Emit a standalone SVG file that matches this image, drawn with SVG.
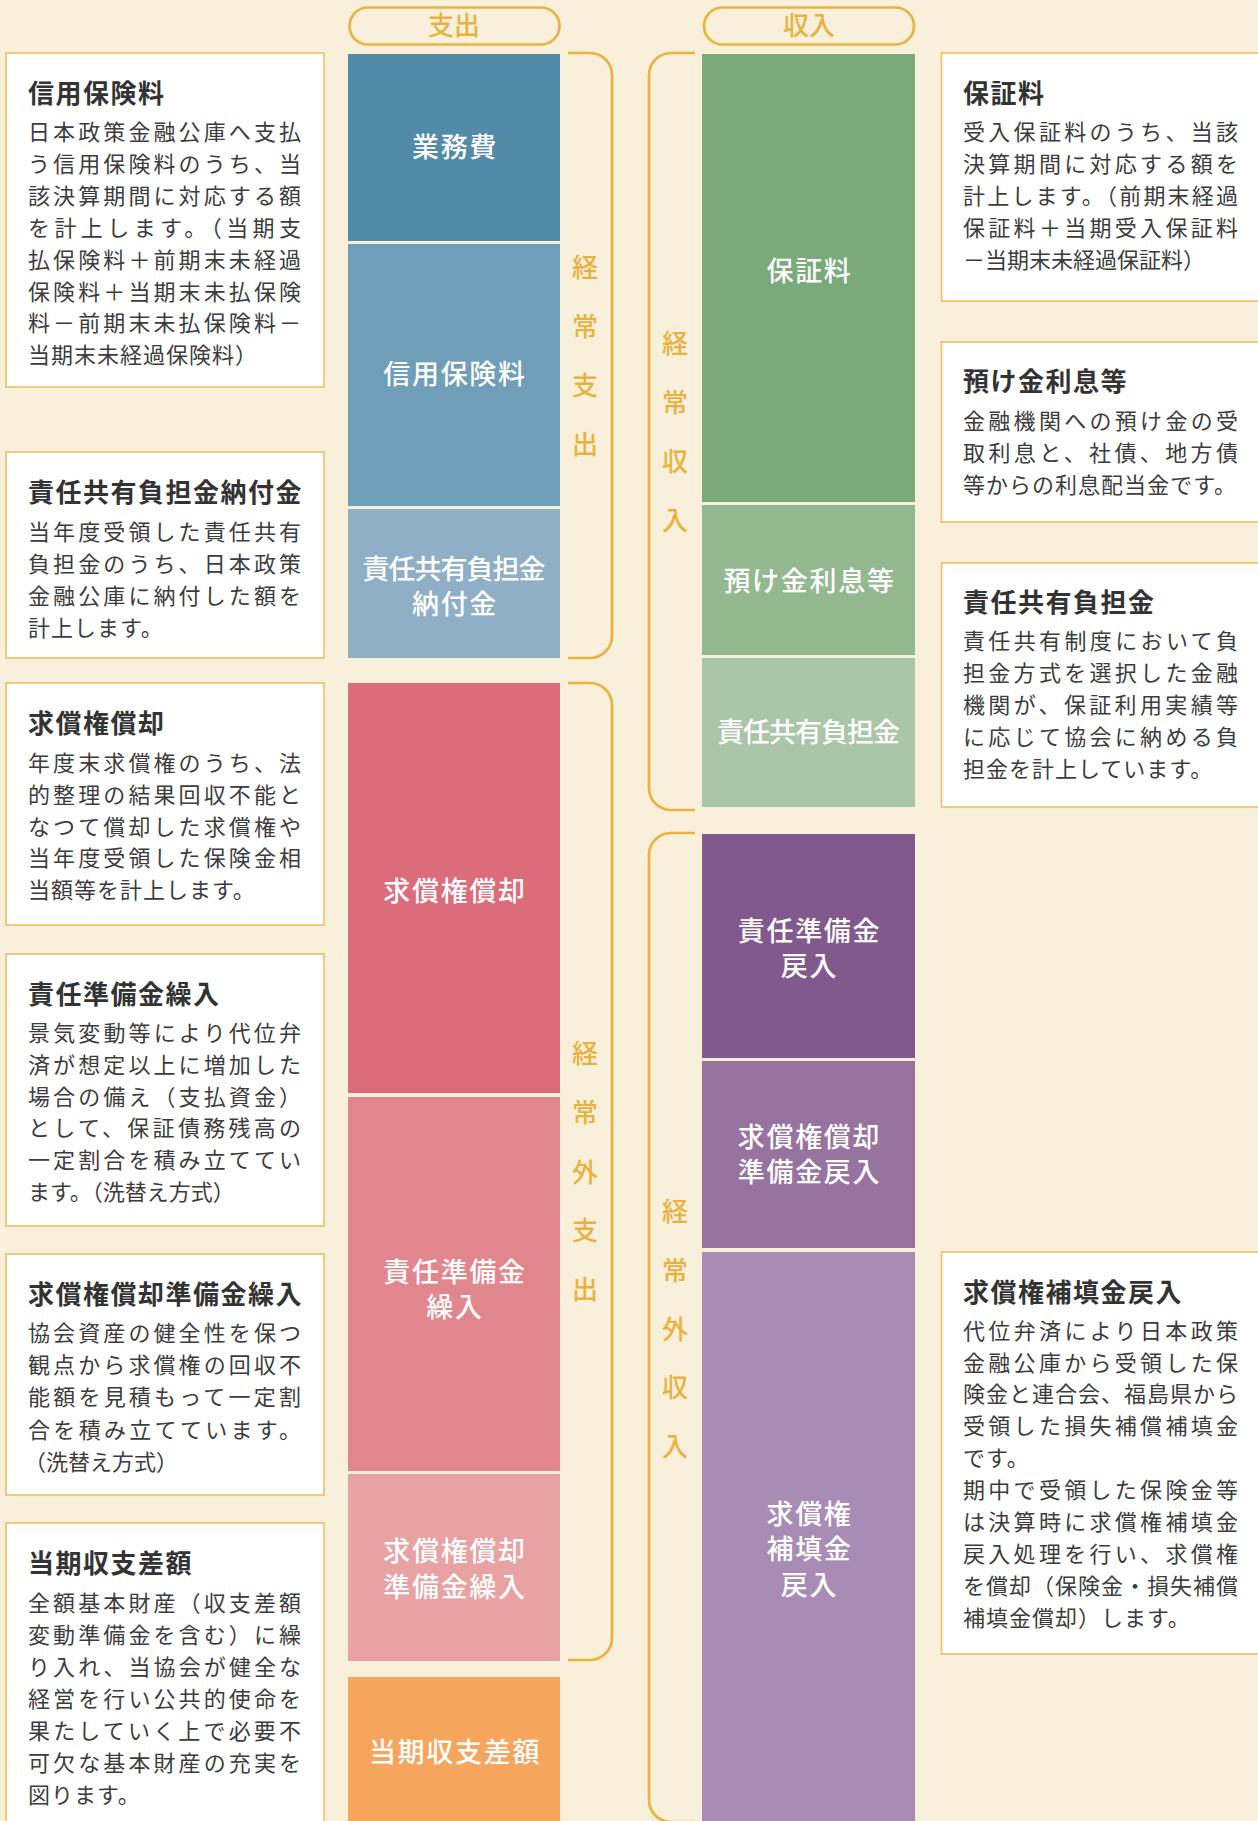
<svg xmlns="http://www.w3.org/2000/svg" width="1258" height="1821" viewBox="0 0 1258 1821">
<style>
text{font-family:"Noto Sans CJK JP","Noto Sans CJK SC",sans-serif}
.box{fill:#FFFFFF;stroke:#EBC060;stroke-width:1.6}
.ttl{font-size:26px;font-weight:bold;fill:#333333;letter-spacing:1.5px}
.bd{font-size:22px;fill:#3C3C3C}
.nat{letter-spacing:1px}
.bl{font-size:27px;font-weight:500;fill:#FFFFFF;text-anchor:middle;letter-spacing:1.7px}
.fit{letter-spacing:0}
.vl{font-size:26px;font-weight:500;fill:#E9B23E;text-anchor:middle}
.br{fill:none;stroke:#EAB33E;stroke-width:2.7}
.pill{fill:none;stroke:#EAB33E;stroke-width:2.7}
</style>
<rect width="1258" height="1821" fill="#F9F0DC"/>

<g id="header-expense">
<rect class="pill" x="349.5" y="7.5" width="210" height="37" rx="18.5"/>
<text class="vl" x="454" y="35">支出</text>
</g>
<g id="header-income">
<rect class="pill" x="704" y="7.5" width="210" height="37" rx="18.5"/>
<text class="vl" x="809" y="35">収入</text>
</g>

<g id="connectors">
<path class="br" d="M568,53 H590 A22,22 0 0 1 612,75 V636 A22,22 0 0 1 590,658 H568"/>
<path class="br" d="M568,683 H590 A22,22 0 0 1 612,705 V1638 A22,22 0 0 1 590,1660 H568"/>
<path class="br" d="M695,53 H671 A22,22 0 0 0 649,75 V788 A22,22 0 0 0 671,810 H695"/>
<path class="br" d="M695,833 H671 A22,22 0 0 0 649,855 V1800 A22,22 0 0 0 671,1822 H695"/>
</g>

<g id="label-keijo-shishutsu">
<text class="vl" x="585" y="277">経</text><text class="vl" x="585" y="336">常</text><text class="vl" x="585" y="395">支</text><text class="vl" x="585" y="454">出</text>
</g>
<g id="label-keijogai-shishutsu">
<text class="vl" x="585" y="1063">経</text><text class="vl" x="585" y="1122">常</text><text class="vl" x="585" y="1182">外</text><text class="vl" x="585" y="1240">支</text><text class="vl" x="585" y="1299">出</text>
</g>
<g id="label-keijo-shunyu">
<text class="vl" x="675" y="353">経</text><text class="vl" x="675" y="412">常</text><text class="vl" x="675" y="471">収</text><text class="vl" x="675" y="530">入</text>
</g>
<g id="label-keijogai-shunyu">
<text class="vl" x="675" y="1221">経</text><text class="vl" x="675" y="1280">常</text><text class="vl" x="675" y="1339">外</text><text class="vl" x="675" y="1397">収</text><text class="vl" x="675" y="1456">入</text>
</g>

<!-- expense bars -->
<g id="bar-gyomuhi"><rect x="348" y="54" width="212" height="187" fill="#528AAA"/><text class="bl" x="455" y="157">業務費</text></g>
<g id="bar-shinyo-hokenryo"><rect x="348" y="244" width="212" height="262" fill="#6F9EB9"/><text class="bl" x="455" y="384">信用保険料</text></g>
<g id="bar-sekinin-nofukin"><rect x="348" y="509" width="212" height="149" fill="#8EAFC6"/><text class="bl fit" x="454" y="579" textLength="183" lengthAdjust="spacing">責任共有負担金</text><text class="bl" x="455" y="614">納付金</text></g>
<g id="bar-kyushoken-shokyaku"><rect x="348" y="683" width="212" height="410" fill="#DC6C7A"/><text class="bl" x="455" y="901">求償権償却</text></g>
<g id="bar-sekinin-kurire"><rect x="348" y="1097" width="212" height="374" fill="#E2868D"/><text class="bl" x="455" y="1282">責任準備金</text><text class="bl" x="455" y="1317">繰入</text></g>
<g id="bar-kyushoken-junbi-kurire"><rect x="348" y="1474" width="212" height="187" fill="#E8A2A4"/><text class="bl" x="455" y="1561">求償権償却</text><text class="bl" x="455" y="1597">準備金繰入</text></g>
<g id="bar-toki-sagaku"><rect x="348" y="1677" width="212" height="150" fill="#F6A65C"/><text class="bl" x="455" y="1762">当期収支差額</text></g>

<!-- income bars -->
<g id="bar-hoshoryo"><rect x="702" y="54" width="213" height="448" fill="#7AAA7A"/><text class="bl" x="809.5" y="281">保証料</text></g>
<g id="bar-azukekin"><rect x="702" y="505" width="213" height="150" fill="#94B990"/><text class="bl" x="809.5" y="591">預け金利息等</text></g>
<g id="bar-sekinin-futankin"><rect x="702" y="658" width="213" height="149" fill="#AAC6A8"/><text class="bl fit" x="808.5" y="742" textLength="183" lengthAdjust="spacing">責任共有負担金</text></g>
<g id="bar-sekinin-modoshi"><rect x="702" y="834" width="213" height="224" fill="#82598D"/><text class="bl" x="809.5" y="941">責任準備金</text><text class="bl" x="809.5" y="976">戻入</text></g>
<g id="bar-kyushoken-junbi-modoshi"><rect x="702" y="1061" width="213" height="187" fill="#9773A0"/><text class="bl" x="809.5" y="1147">求償権償却</text><text class="bl" x="809.5" y="1182">準備金戻入</text></g>
<g id="bar-hotenkin-modoshi"><rect x="702" y="1252" width="213" height="575" fill="#A88CB5"/><text class="bl" x="809.5" y="1524">求償権</text><text class="bl" x="809.5" y="1559">補填金</text><text class="bl" x="809.5" y="1595">戻入</text></g>

<!-- left description boxes -->
<g id="desc-shinyo-hokenryo">
<rect class="box" x="6" y="53" width="318" height="334"/>
<text class="ttl" x="28" y="103">信用保険料</text>
<text class="bd" x="28" y="140" textLength="273" lengthAdjust="spacing">日本政策金融公庫へ支払</text>
<text class="bd" x="28" y="172" textLength="273" lengthAdjust="spacing">う信用保険料のうち、当</text>
<text class="bd" x="28" y="204" textLength="273" lengthAdjust="spacing">該決算期間に対応する額</text>
<text class="bd" x="28" y="236" textLength="273" lengthAdjust="spacing">を計上します。（当期支</text>
<text class="bd" x="28" y="268" textLength="273" lengthAdjust="spacing">払保険料＋前期末未経過</text>
<text class="bd" x="28" y="300" textLength="273" lengthAdjust="spacing">保険料＋当期末未払保険</text>
<text class="bd" x="28" y="331" textLength="273" lengthAdjust="spacing">料－前期末未払保険料－</text>
<text class="bd nat" x="28" y="363">当期末未経過保険料）</text>
</g>
<g id="desc-sekinin-nofukin">
<rect class="box" x="6" y="452" width="318" height="206"/>
<text class="ttl" x="28" y="502">責任共有負担金納付金</text>
<text class="bd" x="28" y="540" textLength="273" lengthAdjust="spacing">当年度受領した責任共有</text>
<text class="bd" x="28" y="572" textLength="273" lengthAdjust="spacing">負担金のうち、日本政策</text>
<text class="bd" x="28" y="604" textLength="273" lengthAdjust="spacing">金融公庫に納付した額を</text>
<text class="bd nat" x="28" y="636">計上します。</text>
</g>
<g id="desc-kyushoken-shokyaku">
<rect class="box" x="6" y="683" width="318" height="242"/>
<text class="ttl" x="28" y="733">求償権償却</text>
<text class="bd" x="28" y="771" textLength="273" lengthAdjust="spacing">年度末求償権のうち、法</text>
<text class="bd" x="28" y="803" textLength="273" lengthAdjust="spacing">的整理の結果回収不能と</text>
<text class="bd" x="28" y="835" textLength="273" lengthAdjust="spacing">なつて償却した求償権や</text>
<text class="bd" x="28" y="866" textLength="273" lengthAdjust="spacing">当年度受領した保険金相</text>
<text class="bd nat" x="28" y="898">当額等を計上します。</text>
</g>
<g id="desc-sekinin-kurire">
<rect class="box" x="6" y="954" width="318" height="272"/>
<text class="ttl" x="28" y="1004">責任準備金繰入</text>
<text class="bd" x="28" y="1041" textLength="273" lengthAdjust="spacing">景気変動等により代位弁</text>
<text class="bd" x="28" y="1073" textLength="273" lengthAdjust="spacing">済が想定以上に増加した</text>
<text class="bd" x="28" y="1105" textLength="273" lengthAdjust="spacing">場合の備え（支払資金）</text>
<text class="bd" x="28" y="1136" textLength="273" lengthAdjust="spacing">として、保証債務残高の</text>
<text class="bd" x="28" y="1168" textLength="273" lengthAdjust="spacing">一定割合を積み立ててい</text>
<text class="bd" x="28" y="1200">ます。（洗替え方式）</text>
</g>
<g id="desc-kyushoken-junbi-kurire">
<rect class="box" x="6" y="1254" width="318" height="241"/>
<text class="ttl" x="28" y="1304">求償権償却準備金繰入</text>
<text class="bd" x="28" y="1341" textLength="273" lengthAdjust="spacing">協会資産の健全性を保つ</text>
<text class="bd" x="28" y="1373" textLength="273" lengthAdjust="spacing">観点から求償権の回収不</text>
<text class="bd" x="28" y="1405" textLength="273" lengthAdjust="spacing">能額を見積もって一定割</text>
<text class="bd" x="28" y="1438" textLength="273" lengthAdjust="spacing">合を積み立てています。</text>
<text class="bd" x="24" y="1470">（洗替え方式）</text>
</g>
<g id="desc-toki-sagaku">
<rect class="box" x="6" y="1523" width="318" height="320"/>
<text class="ttl" x="28" y="1573">当期収支差額</text>
<text class="bd" x="28" y="1611" textLength="273" lengthAdjust="spacing">全額基本財産（収支差額</text>
<text class="bd" x="28" y="1643" textLength="273" lengthAdjust="spacing">変動準備金を含む）に繰</text>
<text class="bd" x="28" y="1675" textLength="273" lengthAdjust="spacing">り入れ、当協会が健全な</text>
<text class="bd" x="28" y="1707" textLength="273" lengthAdjust="spacing">経営を行い公共的使命を</text>
<text class="bd" x="28" y="1739" textLength="273" lengthAdjust="spacing">果たしていく上で必要不</text>
<text class="bd" x="28" y="1771" textLength="273" lengthAdjust="spacing">可欠な基本財産の充実を</text>
<text class="bd nat" x="28" y="1803">図ります。</text>
</g>

<!-- right description boxes -->
<g id="desc-hoshoryo">
<rect class="box" x="941.5" y="53" width="330" height="248"/>
<text class="ttl" x="963" y="103">保証料</text>
<text class="bd" x="963" y="140" textLength="275" lengthAdjust="spacing">受入保証料のうち、当該</text>
<text class="bd" x="963" y="172" textLength="275" lengthAdjust="spacing">決算期間に対応する額を</text>
<text class="bd" x="963" y="204" textLength="275" lengthAdjust="spacing">計上します。（前期末経過</text>
<text class="bd" x="963" y="236" textLength="275" lengthAdjust="spacing">保証料＋当期受入保証料</text>
<text class="bd" x="963" y="268">－当期末未経過保証料）</text>
</g>
<g id="desc-azukekin">
<rect class="box" x="941.5" y="342" width="330" height="180"/>
<text class="ttl" x="963" y="391">預け金利息等</text>
<text class="bd" x="963" y="429" textLength="275" lengthAdjust="spacing">金融機関への預け金の受</text>
<text class="bd" x="963" y="461" textLength="275" lengthAdjust="spacing">取利息と、社債、地方債</text>
<text class="bd" x="963" y="493" textLength="273" lengthAdjust="spacing">等からの利息配当金です。</text>
</g>
<g id="desc-sekinin-futankin">
<rect class="box" x="941.5" y="563" width="330" height="244"/>
<text class="ttl" x="963" y="612">責任共有負担金</text>
<text class="bd" x="963" y="649" textLength="275" lengthAdjust="spacing">責任共有制度において負</text>
<text class="bd" x="963" y="681" textLength="275" lengthAdjust="spacing">担金方式を選択した金融</text>
<text class="bd" x="963" y="713" textLength="275" lengthAdjust="spacing">機関が、保証利用実績等</text>
<text class="bd" x="963" y="745" textLength="275" lengthAdjust="spacing">に応じて協会に納める負</text>
<text class="bd nat" x="963" y="777">担金を計上しています。</text>
</g>
<g id="desc-hotenkin-modoshi">
<rect class="box" x="941.5" y="1252" width="330" height="402"/>
<text class="ttl" x="963" y="1302">求償権補填金戻入</text>
<text class="bd" x="963" y="1339" textLength="275" lengthAdjust="spacing">代位弁済により日本政策</text>
<text class="bd" x="963" y="1371" textLength="275" lengthAdjust="spacing">金融公庫から受領した保</text>
<text class="bd" x="963" y="1402" textLength="275" lengthAdjust="spacing">険金と連合会、福島県から</text>
<text class="bd" x="963" y="1434" textLength="275" lengthAdjust="spacing">受領した損失補償補填金</text>
<text class="bd nat" x="963" y="1466">です。</text>
<text class="bd" x="963" y="1498" textLength="275" lengthAdjust="spacing">期中で受領した保険金等</text>
<text class="bd" x="963" y="1530" textLength="275" lengthAdjust="spacing">は決算時に求償権補填金</text>
<text class="bd" x="963" y="1562" textLength="275" lengthAdjust="spacing">戻入処理を行い、求償権</text>
<text class="bd" x="963" y="1594" textLength="275" lengthAdjust="spacing">を償却（保険金・損失補償</text>
<text class="bd nat" x="963" y="1626">補填金償却）します。</text>
</g>
</svg>
